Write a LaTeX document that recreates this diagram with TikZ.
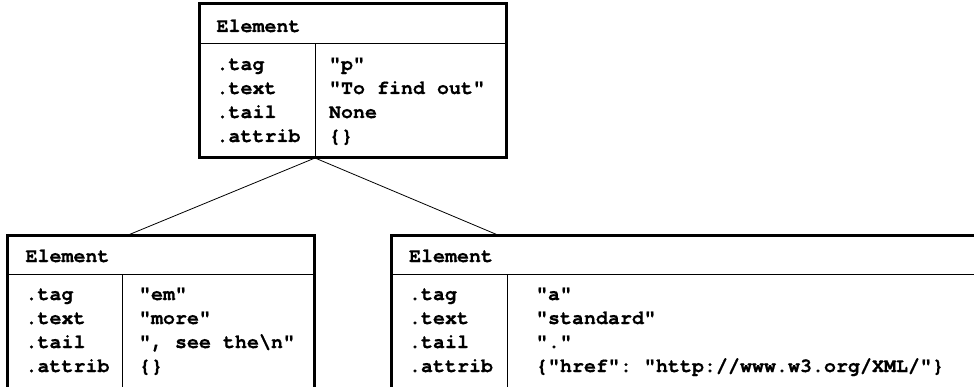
\documentclass[tikz,border=0pt]{standalone}
\usepackage{fontspec}
\setmonofont[Ligatures=NoCommon, BoldFeatures={FakeBold=0.5}]{TeX Gyre Cursor}
\begin{document}
\begin{tikzpicture}[x=1pt,y=-1pt,
  box/.style={draw, line width=3pt, anchor=north west, inner sep=0pt, outer sep=0pt},
  rule/.style={line width=1pt},
  link/.style={line width=0.8pt},
  txt/.style={anchor=base west, inner sep=0pt, outer sep=0pt, font=\fontsize{20}{24}\selectfont\ttfamily\bfseries}]
\useasboundingbox (0,0) rectangle (974,387);
\clip (0,0) rectangle (974,387);
\fill[white] (0,0) rectangle (974,387);
% connection points
\coordinate (topjoin) at (315,158);
\coordinate (ljoin) at (127,235.5);
\coordinate (rjoin) at (499,235.5);
\draw[link] (topjoin) -- (ljoin);
\draw[link] (topjoin) -- (rjoin);
% top box
\node[box, minimum width=306.5pt, minimum height=154pt] (top) at (199.5,4) {};
\draw[rule] (199.5,44) -- (506,44);
\draw[rule] (315,44) -- (315,158);
\node[txt] (th) at (216.5,32) {Element};
\node[txt] (tl1) at (216.5,70) {.tag};
\node[txt] (tl2) at (216.5,94) {.text};
\node[txt] (tl3) at (216.5,118) {.tail};
\node[txt] (tl4) at (216.5,142) {.attrib};
\node[txt] (tv1) at (329,70) {"p"};
\node[txt] (tv2) at (329,94) {"To find out"};
\node[txt] (tv3) at (329,118) {None};
\node[txt] (tv4) at (329,142) {\{\}};
% bottom-left box
\node[box, minimum width=306.5pt, minimum height=200pt] (left) at (7.5,235.5) {};
\draw[rule] (7.5,274.5) -- (314,274.5);
\draw[rule] (122.7,274.5) -- (122.7,400);
\node[txt] (lh) at (25.5,262) {Element};
\node[txt] (ll1) at (25.5,300) {.tag};
\node[txt] (ll2) at (25.5,324) {.text};
\node[txt] (ll3) at (25.5,348) {.tail};
\node[txt] (ll4) at (25.5,372) {.attrib};
\node[txt] (lv1) at (139,300) {"em"};
\node[txt] (lv2) at (139,324) {"more"};
\node[txt] (lv3) at (139,348) {", see the\textbackslash n"};
\node[txt] (lv4) at (139,372) {\{\}};
% bottom-right box
\node[box, minimum width=700pt, minimum height=200pt] (right) at (391,235.5) {};
\draw[rule] (391,274.5) -- (1100,274.5);
\draw[rule] (507,274.5) -- (507,400);
\node[txt] (rh) at (409,262) {Element};
\node[txt] (rl1) at (409,300) {.tag};
\node[txt] (rl2) at (409,324) {.text};
\node[txt] (rl3) at (409,348) {.tail};
\node[txt] (rl4) at (409,372) {.attrib};
\node[txt] (rv1) at (536,300) {"a"};
\node[txt] (rv2) at (536,324) {"standard"};
\node[txt] (rv3) at (536,348) {"."};
\node[txt] (rv4) at (536,372) {\{"href": "http://www.w3.org/XML/"\}};
\end{tikzpicture}
\end{document}
